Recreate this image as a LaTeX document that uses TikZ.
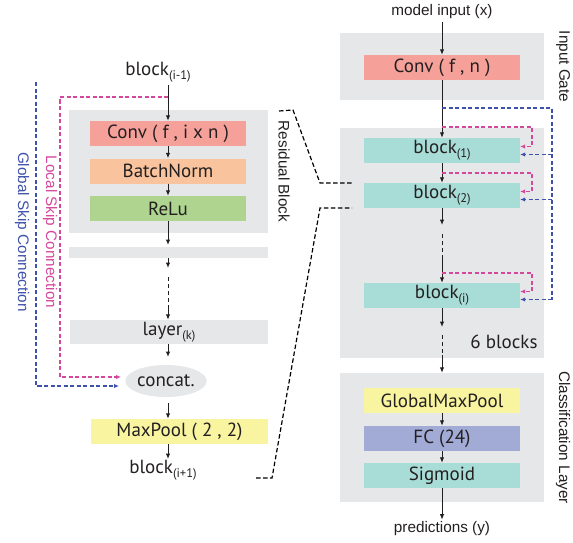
\documentclass[tikz,border=0pt]{standalone}
\usepackage{fontspec}
\setmainfont{PT Sans}
\newfontfamily\lab{Liberation Sans}
\usetikzlibrary{arrows.meta,shapes.geometric}
\definecolor{bg}{HTML}{E6E7E8}
\definecolor{convc}{HTML}{F5A19A}
\definecolor{bnc}{HTML}{F9C49D}
\definecolor{reluc}{HTML}{AED48F}
\definecolor{tealc}{HTML}{A8DCD6}
\definecolor{yelc}{HTML}{F8F4A0}
\definecolor{fcc}{HTML}{A1ABD6}
\definecolor{txt}{HTML}{231F20}
\definecolor{pinkc}{HTML}{D5479C}
\definecolor{bluec}{HTML}{3F52AB}
\newcommand\sbs[1]{\raisebox{-0.45ex}{\fontsize{12.5}{12.5}\selectfont #1}}
\begin{document}
\begin{tikzpicture}[x=1pt,y=-1pt,
  panel/.style={fill=bg,inner sep=0pt},
  box/.style={minimum width=156pt,minimum height=25pt,inner sep=0pt,font=\fontsize{19}{19}\selectfont,text=txt},
  plain/.style={inner sep=0pt,font=\fontsize{19}{19}\selectfont,text=txt},
  side/.style={inner sep=0pt,rotate=-90,font=\lab\fontsize{15.3}{15.3}\selectfont,text=txt},
  arr/.style={-{Latex[length=5.5pt,width=4.5pt]},line width=1pt,draw=txt},
  dline/.style={line width=1pt,draw=txt,dash pattern=on 4pt off 3pt},
  pinkdash/.style={line width=1.1pt,draw=pinkc,dash pattern=on 4pt off 2.5pt},
  bluedash/.style={line width=1.1pt,draw=bluec,dash pattern=on 4pt off 2.5pt},
  tip/.style={-{Latex[length=5pt,width=4.5pt]}},
  zoomline/.style={line width=1.2pt,draw=black,dash pattern=on 4.5pt off 2.5pt}]
\useasboundingbox (0,0) rectangle (573,543);

% ---------------- left column ----------------
\node[panel,minimum width=199pt,minimum height=123pt] (resL) at (168.5,171.5) {};
\node[panel,minimum width=199pt,minimum height=11pt] (strip) at (168.5,252.5) {};
\node[box,fill=convc] (convL) at (168,133.5) {Conv ( f , i x n )};
\node[box,fill=bnc] (bn) at (168,171) {BatchNorm};
\node[box,fill=reluc] (relu) at (168,208.5) {ReLu};
\node[panel,box,minimum width=198pt,minimum height=24pt] (layerk) at (169,332) {layer\sbs{(k)}};
\node[ellipse,fill=bg,minimum width=76pt,minimum height=32pt,inner sep=0pt,font=\fontsize{19}{19}\selectfont,text=txt] (concat) at (166,381) {concat.};
\node[box,fill=yelc,minimum width=177pt] (maxpool) at (179.5,431.5) {MaxPool ( 2 , 2)};
\node[plain] (bim1) at (158,72) {block\sbs{(i-1)}};
\node[plain] (bip1) at (163,470) {block\sbs{(i+1)}};

\coordinate (a1) at (168,245);
\coordinate (a2) at (168,268);
\coordinate (d1) at (168,277);
\coordinate (d2) at (168,305);
\draw[arr] (bim1.south -| convL.north) ++(0,-3pt) -- (convL.north);
\draw[arr] (convL) -- (bn);
\draw[arr] (bn) -- (relu);
\draw[arr] (relu.south) -- (a1);
\draw[arr] (strip.south -| a2) -- (a2);
\draw[dline] (d1) -- (d2);
\draw[arr] (d2) -- (layerk.north -| d2);
\draw[arr] (layerk.south -| d2) -- (168,357);
\draw[arr] (168,403) -- (maxpool.north -| d2);
\draw[arr] (maxpool.south -| d2) -- (168,459);

% skip connections (left)
\coordinate (lsk) at (168,97);
\coordinate (lend) at (121,377);
\coordinate (gtop) at (36,82);
\coordinate (gend) at (119,386);
\draw[pinkdash,tip] (lsk) -- (60,97) -- (60,377) -- (lend);
\draw[bluedash,tip] (gtop) -- (36,386) -- (gend);
\node[side,text=pinkc] (lsc) at (50,232) {Local Skip Connection};
\node[side,text=bluec] (gsc) at (22,232) {Global Skip Connection};
\node[side] (rbl) at (284,171.5) {Residual Block};

% ---------------- right column ----------------
\node[panel,minimum width=204pt,minimum height=67pt] (ig) at (442,66.5) {};
\node[panel,minimum width=204pt,minimum height=230pt] (resR) at (442,243) {};
\node[panel,minimum width=204pt,minimum height=129pt] (cls) at (442,437.5) {};
\node[box,fill=convc] (convR) at (442,67.5) {Conv ( f , n )};
\node[box,fill=tealc] (b1) at (442,150.5) {block\sbs{(1)}};
\node[box,fill=tealc] (b2) at (442,195.5) {block\sbs{(2)}};
\node[box,fill=tealc] (bi) at (442,295.5) {block\sbs{(i)}};
\node[box,fill=yelc] (gmp) at (442,400.5) {GlobalMaxPool};
\node[box,fill=fcc] (fc) at (442,438.5) {FC (24)};
\node[box,fill=tealc] (sig) at (442,475.5) {Sigmoid};
\node[plain,font=\lab\fontsize{15.3}{15.3}\selectfont] (min) at (442,12) {model input (x)};
\node[plain,font=\lab\fontsize{15.3}{15.3}\selectfont] (pred) at (442,529) {predictions (y)};
\node[plain] (six) at (504,342) {6 blocks};
\node[side] (igl) at (563,66.5) {Input Gate};
\node[side] (cll) at (563,437.5) {Classification Layer};

\coordinate (r1) at (442,225);
\coordinate (r2) at (442,234);
\coordinate (r3) at (442,259);
\coordinate (r4) at (442,327);
\coordinate (r5) at (442,335);
\coordinate (r6) at (442,355);
\draw[arr] (min.south) ++(0,-3pt) -- (convR.north);
\draw[arr] (convR) -- (b1);
\draw[arr] (b1) -- (b2);
\draw[arr] (b2.south) -- (r1);
\draw[dline] (r2) -- (r3);
\draw[arr] (r3) -- (bi.north);
\draw[arr] (bi.south) -- (r4);
\draw[dline] (r5) -- (r6);
\draw[arr] (r6) -- (cls.north);
\draw[arr] (gmp) -- (fc);
\draw[arr] (fc) -- (sig);
\draw[arr] (sig.south) -- ([yshift=2pt]pred.north);

% skip connections (right)
\draw[bluedash] (442,108) -- (552,108) -- (552,299.5);
\draw[bluedash,tip] (552,154.5) -- ([yshift=-4pt]b1.east);
\draw[bluedash,tip] (552,199.5) -- ([yshift=-4pt]b2.east);
\draw[bluedash,tip] (552,299.5) -- ([yshift=-4pt]bi.east);
\draw[pinkdash,tip] (442,127) -- (532,127) -- (532,146.5) -- ([yshift=4pt]b1.east);
\draw[pinkdash,tip] (442,173) -- (532,173) -- (532,191.5) -- ([yshift=4pt]b2.east);
\draw[pinkdash,tip] (442,273) -- (532,273) -- (532,291.5) -- ([yshift=4pt]bi.east);

% zoom connectors
\draw[zoomline] (279,111) -- (293,110) -- (320,183) -- (352,183);
\draw[zoomline] (256,478) -- (272,478) -- (320,208) -- (352,208);
\end{tikzpicture}
\end{document}
